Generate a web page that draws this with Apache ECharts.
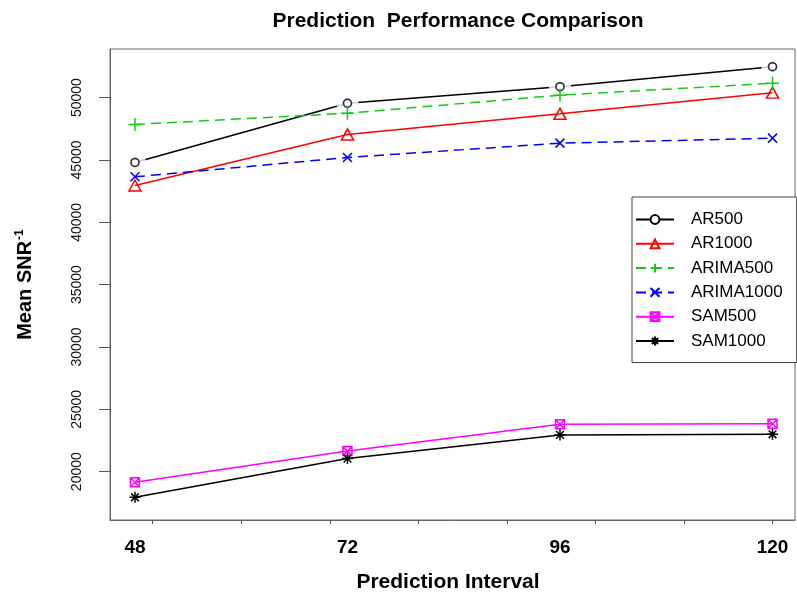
<!DOCTYPE html>
<html>
<head>
<meta charset="utf-8">
<script src="https://cdn.jsdelivr.net/npm/echarts@6/dist/echarts.min.js"></script>
<style>
html,body{margin:0;padding:0;background:#fff;}
#c{width:797px;height:598px;}
</style>
</head>
<body>
<div id="c"></div>
<script>
// ---- data ----
const intervals = [48, 72, 96, 120];
const xTickValues = [50, 60, 70, 80, 90, 100, 110, 120];
const yTickValues = [20000, 25000, 30000, 35000, 40000, 45000, 50000];
const seriesNames = ['AR500', 'AR1000', 'ARIMA500', 'ARIMA1000', 'SAM500', 'SAM1000'];
const AR500 = [44800, 49550, 50880, 52480];
const AR1000 = [42950, 47050, 48700, 50400];
const ARIMA500 = [47850, 48750, 50200, 51150];
const ARIMA1000 = [43650, 45200, 46350, 46750];
const SAM500 = [19150, 21650, 23800, 23850];
const SAM1000 = [17950, 21050, 22950, 23000];

const pair = arr => intervals.map((x, i) => [x, arr[i]]);
const FONT = "'Liberation Sans', Arial, sans-serif";

const SYM_PLUS = 'path://M0,5 L10,5 M5,0 L5,10';
const SYM_X = 'path://M0,0 L10,10 M10,0 L0,10';
const SYM_BOXX = 'path://M0,0 L10,0 L10,10 L0,10 Z M0,0 L10,10 M10,0 L0,10';
const SYM_STAR = 'path://M0,5 L10,5 M5,0 L5,10 M1.5,1.5 L8.5,8.5 M8.5,1.5 L1.5,8.5';
const SYM_TRI = 'path://M5,0 L10,9 L0,9 Z';

function lineSeries(name, data, color, symbol, size, dashed, z) {
  return {
    name: name, type: 'line', data: pair(data), z: z,
    symbol: symbol, symbolSize: size,
    lineStyle: { color: color, width: 1.5, type: dashed ? [10, 6] : 'solid' },
    itemStyle: { color: 'rgba(0,0,0,0)', borderColor: color, borderWidth: 1.5 },
    emphasis: { disabled: true }, animation: false
  };
}

const chart = echarts.init(document.getElementById('c'), null, { renderer: 'canvas' });
const ar500Series = lineSeries('AR500', AR500, '#000', 'emptyCircle', 8, false, 1);
ar500Series.itemStyle = { color: '#000', borderColor: '#000', borderWidth: 1.5 };

chart.setOption({
  backgroundColor: '#fff',
  animation: false,
  title: {
    text: 'Prediction  Performance Comparison',
    left: 453, top: 6, textAlign: 'center',
    textStyle: { fontFamily: FONT, fontSize: 21, fontWeight: 'bold', color: '#000' }
  },
  grid: { left: 110, top: 49, right: 2, bottom: 77, show: true, borderColor: '#666', borderWidth: 1, containLabel: false },
  legend: {
    data: seriesNames,
    orient: 'vertical', left: 632, top: 197,
    padding: [14, 14, 13, 3],
    itemWidth: 38, itemHeight: 11, itemGap: 7.3,
    backgroundColor: '#fff', borderColor: '#444', borderWidth: 1,
    textStyle: { fontFamily: FONT, fontSize: 17, color: '#000', padding: [0, 0, 0, 12] },
    selectedMode: false
  },
  xAxis: {
    type: 'value', min: 45.18, max: 122.54,
    name: 'Prediction Interval', nameLocation: 'middle', nameGap: 52,
    nameTextStyle: { fontFamily: FONT, fontSize: 21, fontWeight: 'bold', color: '#000', padding: [0, 9, 0, 0] },
    axisLine: { show: true, lineStyle: { color: '#666', width: 1 } },
    axisTick: { show: true, length: 4, customValues: xTickValues, lineStyle: { color: '#555' } },
    axisLabel: { customValues: intervals, margin: 18, fontFamily: FONT, fontSize: 19, fontWeight: 'bold', color: '#000' },
    splitLine: { show: false }
  },
  yAxis: {
    type: 'value', min: 16125, max: 53900,
    name: 'Mean SNR{sup|-1}', nameLocation: 'middle', nameGap: 74,
    nameTextStyle: {
      fontFamily: FONT, fontSize: 20, fontWeight: 'bold', color: '#000',
      rich: { sup: { fontFamily: FONT, fontSize: 12, fontWeight: 'bold', color: '#000', verticalAlign: 'top', padding: [0, 0, 10, 1] } }
    },
    axisLine: { show: true, lineStyle: { color: '#666', width: 1 } },
    axisTick: { show: true, length: 11, customValues: yTickValues, lineStyle: { color: '#555' } },
    axisLabel: { customValues: yTickValues, rotate: 90, margin: 26, fontFamily: FONT, fontSize: 14, color: '#111',
      formatter: v => String(v) },
    splitLine: { show: false }
  },
  series: [
    ar500Series,
    { name: '_gap', type: 'scatter', data: pair(AR500), z: 2, silent: true, symbol: 'circle', symbolSize: 22,
      itemStyle: { color: '#fff' }, animation: false },
    { name: '_ar500marks', type: 'scatter', data: pair(AR500), z: 3, silent: true, symbol: 'circle', symbolSize: 8,
      itemStyle: { color: 'rgba(0,0,0,0)', borderColor: '#000', borderWidth: 1.5 }, animation: false },
    lineSeries('AR1000', AR1000, '#ff0000', SYM_TRI, [12, 11], false, 4),
    lineSeries('ARIMA500', ARIMA500, '#11cc11', SYM_PLUS, 13, true, 4),
    lineSeries('ARIMA1000', ARIMA1000, '#0000ff', SYM_X, 9, true, 4),
    lineSeries('SAM500', SAM500, '#ff00ff', SYM_BOXX, 9, false, 4),
    lineSeries('SAM1000', SAM1000, '#000', SYM_STAR, 11, false, 4)
  ]
});
</script>
</body>
</html>
